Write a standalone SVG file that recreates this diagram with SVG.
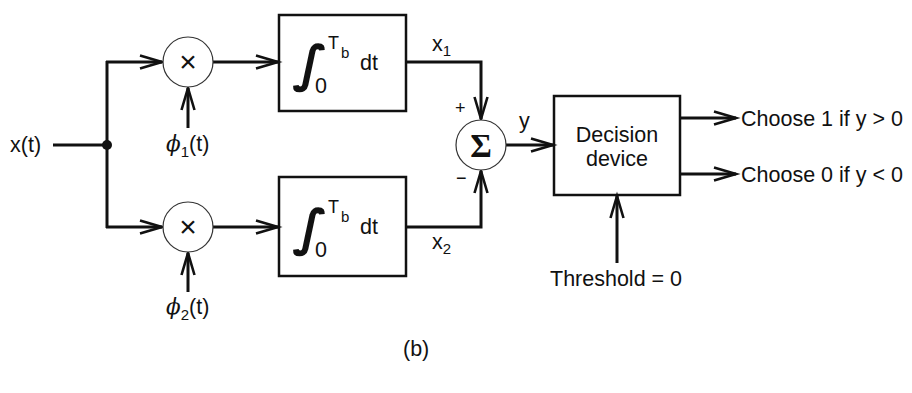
<svg xmlns="http://www.w3.org/2000/svg" width="912" height="393" viewBox="0 0 912 393">
<style>
text{font-family:"Liberation Sans",Arial,sans-serif;fill:#111;}
.lbl{font-size:21.5px;}
.sub{font-size:15px;}
.tb{font-size:18px;}
.phi{font-family:"DejaVu Serif",serif;font-style:italic;}
.intg{font-family:"DejaVu Sans",sans-serif;font-size:50px;font-weight:bold;}
.sig{font-family:"Liberation Serif",serif;font-weight:bold;font-size:33px;}
.mul{font-size:30px;}
.box{fill:none;stroke:#111;stroke-width:2.5;}
.circ{fill:#fff;stroke:#333;stroke-width:1.2;}
.wire{fill:none;stroke:#111;stroke-width:3;}
</style>
<defs>
<marker id="arr" markerUnits="userSpaceOnUse" markerWidth="30" markerHeight="20" refX="24" refY="8" orient="auto" viewBox="0 0 30 20">
<path d="M2,1.5 L24,8 L2,14.5" fill="none" stroke="#111" stroke-width="2.6"/>
</marker>
</defs>
<g id="connectors">
<line class="wire" x1="53" y1="145" x2="107" y2="145"/>
<line class="wire" x1="107" y1="61" x2="107" y2="228"/>
<polyline class="wire" points="106,62 162,62" marker-end="url(#arr)"/>
<polyline class="wire" points="106,227 162,227" marker-end="url(#arr)"/>
<polyline class="wire" points="213,62 278,62" marker-end="url(#arr)"/>
<polyline class="wire" points="213,227 278,227" marker-end="url(#arr)"/>
<polyline class="wire" points="188,128 188,88" marker-end="url(#arr)"/>
<polyline class="wire" points="188,292 188,253" marker-end="url(#arr)"/>
<polyline class="wire" points="406,62 481,62 481,119" marker-end="url(#arr)"/>
<polyline class="wire" points="406,227 481,227 481,171" marker-end="url(#arr)"/>
<polyline class="wire" points="506,145 553,145" marker-end="url(#arr)"/>
<polyline class="wire" points="680,118 736,118" marker-end="url(#arr)"/>
<polyline class="wire" points="680,174 736,174" marker-end="url(#arr)"/>
<polyline class="wire" points="617,263 617,196" marker-end="url(#arr)"/>
<circle cx="107" cy="145" r="5" fill="#111"/>
</g>
<g id="input">
<text class="lbl" x="10" y="152">x(t)</text>
</g>
<g id="mult1">
<circle class="circ" cx="188" cy="62" r="25"/>
<text class="mul" x="188" y="72" text-anchor="middle">×</text>
</g>
<g id="mult2">
<circle class="circ" cx="188" cy="227" r="25"/>
<text class="mul" x="188" y="237" text-anchor="middle">×</text>
</g>
<g id="phi1">
<text class="lbl" x="166" y="151"><tspan class="phi">ϕ</tspan><tspan class="sub" dy="6">1</tspan><tspan dy="-6">(t)</tspan></text>
</g>
<g id="phi2">
<text class="lbl" x="166" y="314"><tspan class="phi">ϕ</tspan><tspan class="sub" dy="6">2</tspan><tspan dy="-6">(t)</tspan></text>
</g>
<g id="integrator1">
<rect class="box" x="279" y="15" width="127" height="96"/>
<text class="intg" transform="translate(293,81) skewX(-8)">∫</text>
<text class="tb" x="328" y="49">T</text>
<text class="sub" x="341" y="58">b</text>
<text class="lbl" x="315" y="93">0</text>
<text class="lbl" x="360" y="70">dt</text>
</g>
<g id="integrator2">
<rect class="box" x="279" y="177" width="127" height="99"/>
<text class="intg" transform="translate(293,245) skewX(-8)">∫</text>
<text class="tb" x="328" y="213">T</text>
<text class="sub" x="341" y="222">b</text>
<text class="lbl" x="315" y="257">0</text>
<text class="lbl" x="360" y="234">dt</text>
</g>
<g id="labels">
<text class="lbl" x="432" y="51">x<tspan class="sub" dy="5">1</tspan></text>
<text class="lbl" x="432" y="249">x<tspan class="sub" dy="5">2</tspan></text>
<text x="455" y="114" font-size="18">+</text>
<text x="456" y="184" font-size="18">−</text>
<text class="lbl" x="519" y="128">y</text>
</g>
<g id="sum">
<circle class="circ" cx="481" cy="145" r="25"/>
<text class="sig" x="481" y="157" text-anchor="middle">Σ</text>
</g>
<g id="decision">
<rect class="box" x="554" y="96" width="126" height="99"/>
<text class="lbl" x="617" y="142" text-anchor="middle">Decision</text>
<text class="lbl" x="617" y="166" text-anchor="middle">device</text>
</g>
<g id="out1"><text class="lbl" x="741" y="126">Choose 1 if y &gt; 0</text></g>
<g id="out0"><text class="lbl" x="741" y="182">Choose 0 if y &lt; 0</text></g>
<g id="threshold"><text class="lbl" x="550" y="286">Threshold = 0</text></g>
<text class="lbl" x="403" y="356">(b)</text>
</svg>
